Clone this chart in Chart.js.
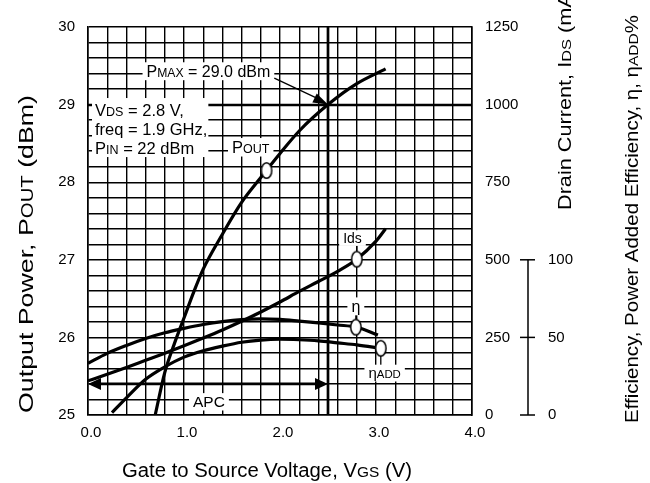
<!DOCTYPE html>
<html>
<head>
<meta charset="utf-8">
<script src="https://cdn.jsdelivr.net/npm/chart.js@4.4.1/dist/chart.umd.min.js"></script>
<style>
  html, body { margin: 0; padding: 0; background: #fff; }
  #wrap { width: 650px; height: 483px; position: relative; }
</style>
</head>
<body>
<div id="wrap"><canvas id="chart"></canvas></div>
<script>
// curves (x = gate voltage, V)
const poutVgs = [0.70, 0.80, 0.90, 1.00, 1.10, 1.20, 1.40, 1.60, 1.80, 2.00, 2.20, 2.50, 2.80, 3.10];
const poutDbm = [25.00, 25.55, 25.92, 26.25, 26.58, 26.88, 27.33, 27.74, 28.06, 28.37, 28.66, 29.00, 29.27, 29.46];

const idsVgs = [0.0, 0.2, 0.4, 0.6, 0.8, 1.0, 1.2, 1.4, 1.6, 1.8, 2.0, 2.2, 2.4, 2.6, 2.8, 3.0, 3.1];
const idsMa = [110, 131, 153, 176, 199, 223, 248, 274, 302, 332, 364, 398, 430, 463, 502, 560, 600];

const etaVgs = [0.0, 0.2, 0.4, 0.6, 0.8, 1.0, 1.2, 1.4, 1.6, 1.8, 2.0, 2.2, 2.4, 2.6, 2.8, 3.02];
const etaPct = [33.3, 39.7, 44.8, 49.3, 53.0, 55.8, 58.3, 60.2, 61.5, 62.0, 61.6, 60.5, 59.3, 58.0, 56.5, 51.5];

const etaAddVgs = [0.25, 0.4, 0.6, 0.8, 1.0, 1.2, 1.4, 1.6, 1.8, 2.0, 2.2, 2.4, 2.6, 2.8, 3.05];
const etaAddPct = [1.5, 11.0, 23.0, 31.0, 37.3, 41.4, 44.4, 46.9, 48.3, 48.8, 48.5, 47.8, 46.5, 45.2, 43.0];

// curve markers [Vgs, value]
const poutMark = [1.86, 28.15];
const idsMark = [2.80, 502];
const etaMark = [2.79, 56.6];
const etaAddMark = [3.05, 43.0];

// tick labels
const xTickLabels = [0, 1, 2, 3, 4];
const yTickLabels = [25, 26, 27, 28, 29, 30];
const idsTickLabels = [0, 250, 500, 750, 1000, 1250];
const effTickLabels = [0, 50, 100];

const pMax = 29.0;
const vApc = 2.5;
const apcLevel = 25.4;

const FONT = '"Liberation Sans", Arial, sans-serif';
Chart.defaults.font.family = FONT;
Chart.defaults.color = '#000';

// "P{OUT}" -> small-cap subscript parts
function parts(str) {
    const out = [];
    const re = /\{([^}]*)\}|([^{]+)/g;
    let m;
    while ((m = re.exec(str))) out.push(m[1] !== undefined ? [m[1], 0.76] : [m[2], 1]);
    return out;
}

function richWidth(ctx, str, size) {
    let w = 0;
    for (const [t, k] of parts(str)) {
        ctx.font = `${size * k}px ${FONT}`;
        w += ctx.measureText(t).width;
    }
    return w;
}

function drawRich(ctx, str, x, y, size) {
    ctx.textAlign = 'left';
    ctx.textBaseline = 'alphabetic';
    let cx = x;
    for (const [t, k] of parts(str)) {
        ctx.font = `${size * k}px ${FONT}`;
        ctx.fillText(t, cx, y);
        cx += ctx.measureText(t).width;
    }
}

// rotated title reading bottom to top, stretched to a length
function drawVertical(ctx, str, baseX, bottomY, size, length) {
    const w = richWidth(ctx, str, size);
    ctx.save();
    ctx.translate(baseX, bottomY);
    ctx.rotate(-Math.PI / 2);
    ctx.scale(length / w, 1);
    drawRich(ctx, str, 0, 0, size);
    ctx.restore();
}

const notes = {
    pmax: { t: 'P{MAX} = 29.0 dBm', v: 0.61, p: 29.43, size: 16 },
    pout: { t: 'P{OUT}', v: 1.50, p: 28.45, size: 16.5 },
    ids: { t: 'Ids', v: 2.755, p: 27.28, size: 14, center: true },
    eta: { t: 'η', v: 2.79, p: 26.40, size: 16, center: true },
    etaAdd: { t: 'η{ADD}', v: 3.09, p: 25.54, size: 15, center: true },
    apc: { t: 'APC', v: 1.26, p: 25.17, size: 15.5, center: true },
};
const conditions = ['V{DS} = 2.8 V,', 'freq = 1.9 GHz,', 'P{IN} = 22 dBm'];
const conditionsAt = { v: 0.073, p: [28.93, 28.69, 28.44], size: 16.5 };

const leaders = [
    { mark: idsMark, axis: 'yIds', note: notes.ids },
    { mark: etaMark, axis: 'yEff', note: notes.eta },
    { mark: etaAddMark, axis: 'yEff', note: notes.etaAdd },
];

function noteBox(ctx, s, n) {
    const w = richWidth(ctx, n.t, n.size);
    const cx = s.x.getPixelForValue(n.v);
    const cy = s.y.getPixelForValue(n.p);
    const left = n.center ? cx - w / 2 : cx;
    return { left, cy, w, box: [left - 4, cy - n.size * 0.56, w + 8, n.size * 1.12] };
}

function arrowHead(ctx, x1, y1, x2, y2, len, half) {
    const ang = Math.atan2(y2 - y1, x2 - x1);
    ctx.beginPath();
    ctx.moveTo(x2, y2);
    ctx.lineTo(x2 - len * Math.cos(ang) + half * Math.sin(ang), y2 - len * Math.sin(ang) - half * Math.cos(ang));
    ctx.lineTo(x2 - len * Math.cos(ang) - half * Math.sin(ang), y2 - len * Math.sin(ang) + half * Math.cos(ang));
    ctx.closePath();
    ctx.fill();
}

const decor = {
    id: 'decor',
    beforeDatasetsDraw(chart) {
        const { ctx, chartArea: a, scales: s } = chart;
        ctx.save();
        ctx.strokeStyle = '#000';
        ctx.lineWidth = 2.7;
        const py = Math.round(s.y.getPixelForValue(pMax));
        const vx = Math.round(s.x.getPixelForValue(vApc));
        ctx.beginPath();
        ctx.moveTo(a.left, py);
        ctx.lineTo(a.right, py);
        ctx.moveTo(vx, a.top);
        ctx.lineTo(vx, a.bottom);
        ctx.stroke();

        ctx.lineWidth = 1.3;
        for (const l of leaders) {
            const x = s.x.getPixelForValue(l.mark[0]);
            ctx.beginPath();
            ctx.moveTo(x, s[l.axis].getPixelForValue(l.mark[1]));
            ctx.lineTo(x, s.y.getPixelForValue(l.note.p));
            ctx.stroke();
        }
        ctx.restore();
    },
    afterDatasetsDraw(chart) {
        const { ctx, chartArea: a, scales: s } = chart;
        ctx.save();
        ctx.fillStyle = '#000';
        ctx.strokeStyle = '#000';

        // test conditions block
        const cs = conditionsAt.size;
        const cl = s.x.getPixelForValue(conditionsAt.v);
        const ys = conditionsAt.p.map((p) => s.y.getPixelForValue(p));
        const cw = Math.max(...conditions.map((t) => richWidth(ctx, t, cs)));
        ctx.fillStyle = '#fff';
        ctx.fillRect(cl - 3, ys[0] - 12, cw + 4, ys[2] - ys[0] + 21);
        ctx.fillStyle = '#000';
        conditions.forEach((t, i) => drawRich(ctx, t, cl, ys[i] + cs * 0.36, cs));

        // labels with white backing
        for (const key of Object.keys(notes)) {
            const n = notes[key];
            const b = noteBox(ctx, s, n);
            ctx.fillStyle = '#fff';
            ctx.fillRect(...b.box);
            ctx.fillStyle = '#000';
            drawRich(ctx, n.t, b.left, b.cy + n.size * 0.36, n.size);
        }

        // PMAX pointer
        const pb = noteBox(ctx, s, notes.pmax).box;
        const sx = pb[0] + pb[2], sy = pb[1] + pb[3] - 2;
        const tx = s.x.getPixelForValue(vApc), ty = s.y.getPixelForValue(pMax);
        ctx.lineWidth = 1.3;
        ctx.beginPath();
        ctx.moveTo(sx, sy);
        ctx.lineTo(tx - 8, ty - 5);
        ctx.stroke();
        arrowHead(ctx, sx, sy, tx, ty, 15, 5);

        // APC range arrow
        const ay = s.y.getPixelForValue(apcLevel);
        const ax0 = s.x.getPixelForValue(0), ax1 = s.x.getPixelForValue(vApc);
        ctx.lineWidth = 2.7;
        ctx.beginPath();
        ctx.moveTo(ax0 + 8, ay);
        ctx.lineTo(ax1 - 8, ay);
        ctx.stroke();
        arrowHead(ctx, ax1, ay, ax0, ay, 13, 6);
        arrowHead(ctx, ax0, ay, ax1, ay, 13, 6);

        // efficiency scale (0..100 %)
        const ex = a.right + 56;
        const e0 = s.yEff.getPixelForValue(effTickLabels[0]);
        const e1 = s.yEff.getPixelForValue(effTickLabels[effTickLabels.length - 1]);
        ctx.lineWidth = 1.5;
        ctx.beginPath();
        ctx.moveTo(ex, e0);
        ctx.lineTo(ex, e1);
        ctx.stroke();
        ctx.font = `15px ${FONT}`;
        ctx.textAlign = 'left';
        ctx.textBaseline = 'middle';
        for (const v of effTickLabels) {
            const y = s.yEff.getPixelForValue(v);
            ctx.beginPath();
            ctx.moveTo(ex - 8, y);
            ctx.lineTo(ex + 7, y);
            ctx.stroke();
            ctx.fillText(String(v), ex + 20, y);
        }
        ctx.restore();
    },
    afterDraw(chart) {
        const { ctx } = chart;
        ctx.save();
        ctx.fillStyle = '#000';
        drawVertical(ctx, 'Output Power, P{OUT} (dBm)', 32.5, 413, 21, 318);
        drawVertical(ctx, 'Drain Current, I{DS} (mA)', 571, 210, 18, 224);
        drawVertical(ctx, 'Efficiency, Power Added Efficiency, η, η{ADD}%', 638, 423, 18, 408);
        const bw = richWidth(ctx, 'Gate to Source Voltage, V{GS} (V)', 20);
        ctx.save();
        ctx.translate(122, 477);
        ctx.scale(290 / bw, 1);
        drawRich(ctx, 'Gate to Source Voltage, V{GS} (V)', 0, 0, 20);
        ctx.restore();
        ctx.restore();
    },
};

const markerImg = document.createElement('canvas');
markerImg.width = 16;
markerImg.height = 21;
{
    const m = markerImg.getContext('2d');
    m.beginPath();
    m.ellipse(8, 10.5, 5.2, 7.8, 0, 0, Math.PI * 2);
    m.fillStyle = '#fff';
    m.fill();
    m.lineWidth = 1.5;
    m.strokeStyle = '#000';
    m.stroke();
}

const curve = (label, xs, ys, axis) => ({
    label,
    data: xs.map((x, i) => ({ x, y: ys[i] })),
    yAxisID: axis,
    borderColor: '#000',
    borderWidth: 3.2,
    pointRadius: 0,
    fill: false,
    cubicInterpolationMode: 'monotone',
    order: 1,
});

const marker = (label, pt, axis) => ({
    label,
    data: [{ x: pt[0], y: pt[1] }],
    yAxisID: axis,
    showLine: false,
    pointStyle: markerImg,
    pointRadius: 8,
    order: 0,
});

const isWhole = (v) => Math.abs(v - Math.round(v)) < 1e-6;
const gridOpts = { color: '#000', lineWidth: 1.4, drawTicks: false };

new Chart(document.getElementById('chart'), {
    type: 'line',
    data: {
        datasets: [
            curve('Pout', poutVgs, poutDbm, 'y'),
            curve('Ids', idsVgs, idsMa, 'yIds'),
            curve('η', etaVgs, etaPct, 'yEff'),
            curve('ηADD', etaAddVgs, etaAddPct, 'yEff'),
            marker('Pout mark', poutMark, 'y'),
            marker('Ids mark', idsMark, 'yIds'),
            marker('η mark', etaMark, 'yEff'),
            marker('ηADD mark', etaAddMark, 'yEff'),
        ],
    },
    options: {
        responsive: true,
        maintainAspectRatio: false,
        animation: false,
        layout: { padding: { top: 27, left: 0, right: 0, bottom: 0 } },
        plugins: { legend: { display: false }, tooltip: { enabled: false } },
        scales: {
            x: {
                type: 'linear',
                min: 0,
                max: 4,
                grid: gridOpts,
                border: { display: true, color: '#000', width: 1.6 },
                ticks: {
                    stepSize: 0.2,
                    autoSkip: false,
                    maxRotation: 0,
                    padding: 9,
                    labelOffset: 3,
                    font: { size: 15 },
                    callback: (v) => (isWhole(v) && xTickLabels.includes(Math.round(v)) ? Math.round(v).toFixed(1) : ''),
                },
                afterFit: (scale) => { scale.height = 68; },
            },
            y: {
                position: 'left',
                min: 25,
                max: 30,
                grid: gridOpts,
                border: { display: true, color: '#000', width: 1.6 },
                ticks: {
                    stepSize: 0.2,
                    autoSkip: false,
                    padding: 13,
                    font: { size: 15 },
                    callback: (v) => (isWhole(v) && yTickLabels.includes(Math.round(v)) ? String(Math.round(v)) : ''),
                },
                afterFit: (scale) => { scale.width = 88; },
            },
            yIds: {
                position: 'right',
                min: 0,
                max: 1250,
                grid: { display: false, drawTicks: false },
                border: { display: true, color: '#000', width: 1.6 },
                ticks: {
                    stepSize: 250,
                    padding: 13,
                    font: { size: 15 },
                    callback: (v) => (idsTickLabels.includes(v) ? String(v) : ''),
                },
                afterFit: (scale) => { scale.width = 178; },
            },
            yEff: {
                display: false,
                min: 0,
                max: 250,
            },
        },
    },
    plugins: [decor],
});
</script>
</body>
</html>
